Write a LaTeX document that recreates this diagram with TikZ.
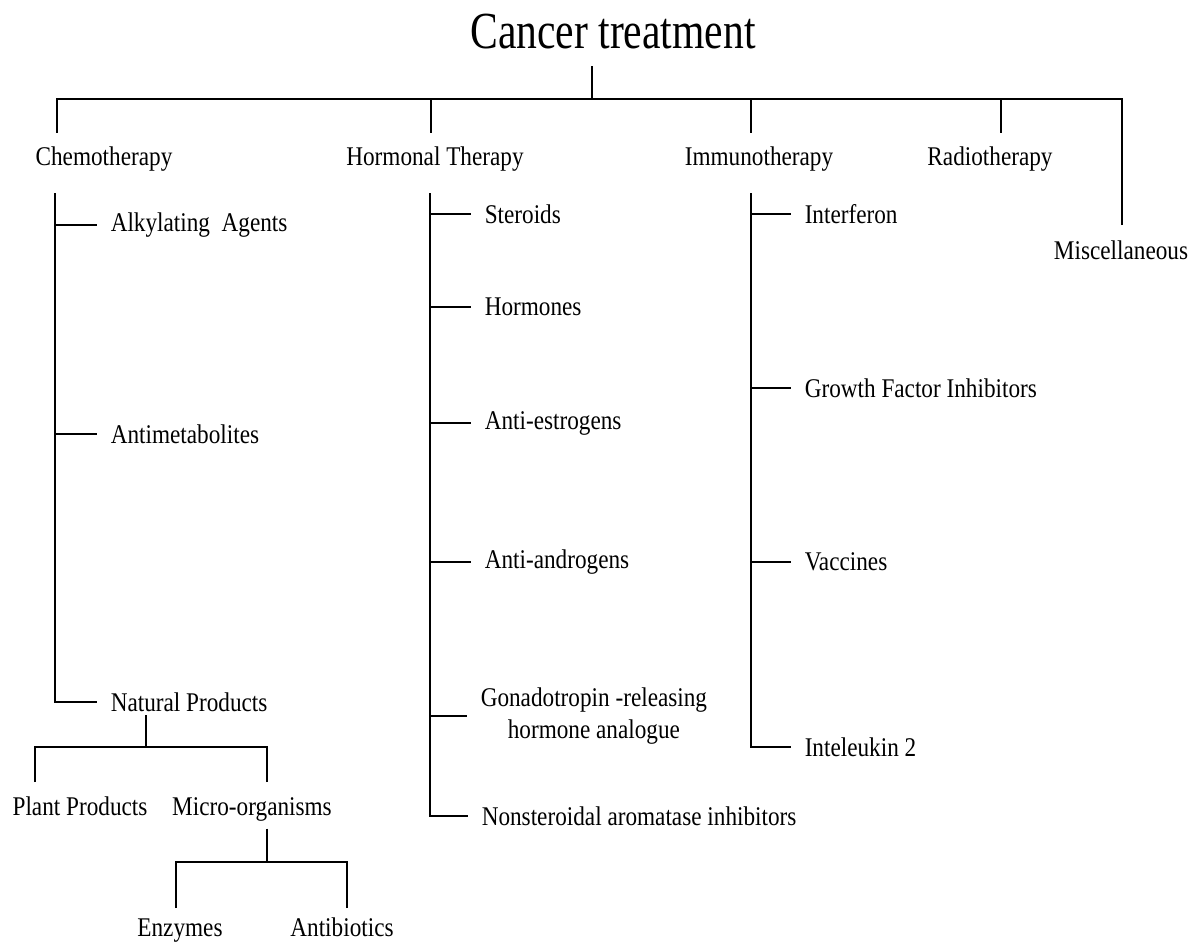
\documentclass[tikz,border=0pt]{standalone}
\usepackage{fontspec}
\setmainfont[FakeStretch=0.86]{Liberation Serif}
\newfontfamily\headfont[FakeStretch=0.8]{Liberation Serif}
\usepackage{tikz}

\begin{document}
\begin{tikzpicture}[x=1pt, y=-1pt, line width=1.5pt,
  head/.style = {font=\headfont\fontsize{52}{62}\selectfont, anchor=base, inner sep=16pt},
  main/.style = {font=\fontsize{27}{32}\selectfont, anchor=base, inner sep=7pt},
  leaf/.style = {font=\fontsize{27}{32}\selectfont, anchor=west, inner xsep=13pt, inner ysep=3pt, align=center}]
\useasboundingbox (0,0) rectangle (1190,944);

\node[head] (root) at (613,49) {Cancer treatment};
\coordinate (bus) at (592,99);
\draw (root.south -| bus) -- (bus);

% first level
\node[main] (chemo) at (104,166) {Chemotherapy};
\node[main] (horm) at (435,166) {Hormonal Therapy};
\node[main] (immu) at (759,166) {Immunotherapy};
\node[main] (radio) at (990,166) {Radiotherapy};
\node[main] (misc) at (1121,259) {Miscellaneous};
\coordinate (cd) at (57,133);
\coordinate (hd) at (431,133);
\coordinate (id) at (751,133);
\coordinate (rd) at (1001,133);
\coordinate (md) at (1122,225);
\foreach \d in {cd,hd,id,rd,md} \draw (\d) |- (bus);

% chemotherapy
\coordinate (ctop) at (55,193);
\node[leaf] (alk) at (97,225) {Alkylating\ \ Agents};
\node[leaf] (amet) at (97,434) {Antimetabolites};
\node[leaf] (nat) at (97,702) {Natural Products};
\foreach \n in {alk,amet,nat} \draw (ctop) |- (\n.west);

% hormonal therapy
\coordinate (htop) at (430,193);
\node[leaf] (ster) at (471,214) {Steroids};
\node[leaf] (hormo) at (471,307) {Hormones};
\node[leaf] (aest) at (471,423) {Anti-estrogens};
\node[leaf] (aand) at (471,562) {Anti-androgens};
\node[leaf] (gnrh) at (467,716) {Gonadotropin -releasing\\hormone analogue};
\node[leaf] (nsai) at (468,816) {Nonsteroidal aromatase inhibitors};
\foreach \n in {ster,hormo,aest,aand,gnrh,nsai} \draw (htop) |- (\n.west);

% immunotherapy
\coordinate (itop) at (751,193);
\node[leaf] (intf) at (791,214) {Interferon};
\node[leaf] (gfi) at (791,388) {Growth Factor Inhibitors};
\node[leaf] (vacc) at (791,562) {Vaccines};
\node[leaf] (il2) at (791,747) {Inteleukin 2};
\foreach \n in {intf,gfi,vacc,il2} \draw (itop) |- (\n.west);

% natural products
\coordinate (nb) at (146,747);
\draw (nb |- nat.south) -- (nb);
\node[main] (plant) at (80,815) {Plant Products};
\node[main] (micro) at (252,815) {Micro-organisms};
\coordinate (pd) at (35,782);
\coordinate (od) at (267,782);
\draw (pd) |- (nb);
\draw (od) |- (nb);

% micro-organisms
\coordinate (mb) at (267,862);
\draw (mb |- micro.south) -- (mb);
\node[main] (enz) at (180,936) {Enzymes};
\node[main] (abio) at (342,936) {Antibiotics};
\coordinate (ed) at (176,908);
\coordinate (ad) at (347,908);
\draw (ed) |- (mb);
\draw (ad) |- (mb);
\end{tikzpicture}
\end{document}
